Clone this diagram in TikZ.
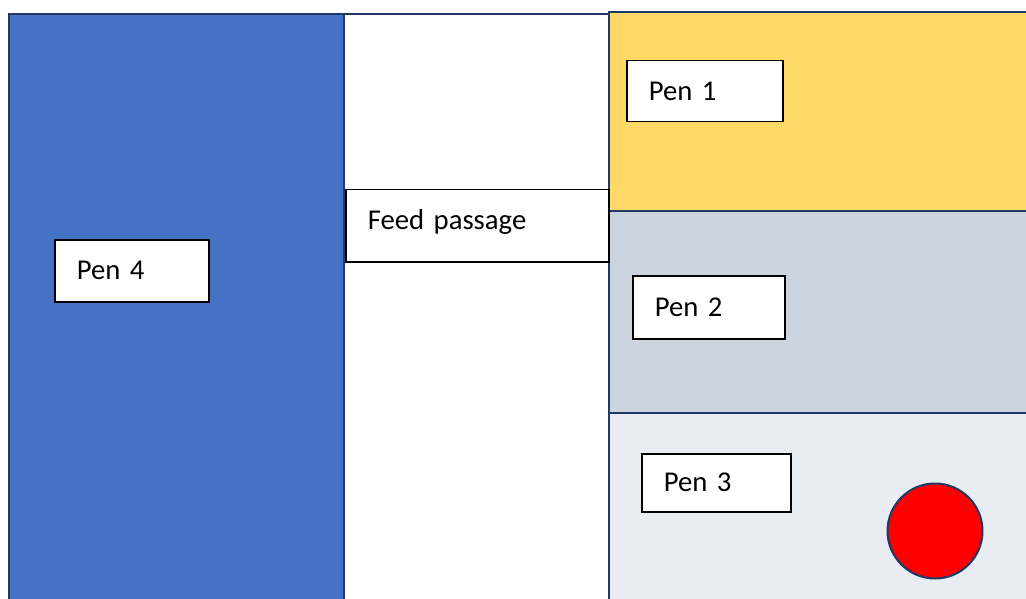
\documentclass[tikz,border=0pt]{standalone}
\usepackage{fontspec}
\setmainfont{Carlito}[WordSpace=0.75]
\definecolor{pblue}{HTML}{4472C4}
\definecolor{pyellow}{HTML}{FFD966}
\definecolor{pgrey}{HTML}{CBD4DF}
\definecolor{plight}{HTML}{E9EDF3}
\definecolor{navy}{HTML}{1F3864}
\begin{document}
\begin{tikzpicture}[x=1pt,y=-1pt,
  region/.style={draw=navy,line width=2pt},
  labelbox/.style={draw=black,fill=white,line width=1.5pt,anchor=north west,
    inner xsep=22pt,inner ysep=0pt,align=left,
    font=\fontsize{28.7}{34}\selectfont}]
\useasboundingbox (0,0) rectangle (1026,599);
\begin{scope}
\clip (0,0) rectangle (1026,599);
\filldraw[region,fill=pblue] (9,14) rectangle (344,620);
\draw[region] (344,14) -- (609,14);
\draw[region] (609,14) -- (609,620);
\filldraw[region,fill=pyellow] (609,12.5) rectangle (1040,211);
\filldraw[region,fill=pgrey] (609,211) rectangle (1040,412.5);
\filldraw[region,fill=plight] (609,412.5) rectangle (1040,620);
\end{scope}
\node[labelbox,text width=110pt,minimum height=62pt] (pen4) at (54,239) {Pen 4};
\node[labelbox,text width=219pt,minimum height=72pt,text depth=12pt] (feed) at (345,189) {Feed passage};
\node[labelbox,text width=112pt,minimum height=61pt] (pen1) at (626,60) {Pen 1};
\node[labelbox,text width=108pt,minimum height=63pt] (pen2) at (632,275) {Pen 2};
\node[labelbox,text width=105pt,minimum height=58pt] (pen3) at (641,453) {Pen 3};
\node[circle,draw=navy,fill=red,line width=2pt,minimum size=95pt,inner sep=0pt] (marker) at (935,531) {};
\end{tikzpicture}
\end{document}
